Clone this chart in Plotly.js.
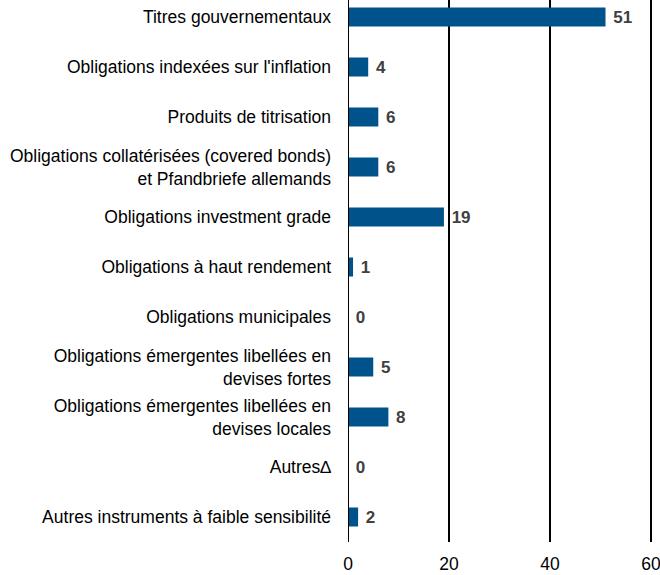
<!DOCTYPE html>
<html>
<head>
<meta charset="utf-8">
<script src="https://cdn.plot.ly/plotly-3.0.1.min.js"></script>
<style>html,body{margin:0;padding:0;background:#fff;}#chart{width:660px;height:575px;}</style>
</head>
<body>
<div id="chart"></div>
<script>
const categories = [
  "Titres gouvernementaux",
  "Obligations indexées sur l'inflation",
  "Produits de titrisation",
  "Obligations collatérisées (covered bonds)<br>et Pfandbriefe allemands",
  "Obligations investment grade",
  "Obligations à haut rendement",
  "Obligations municipales",
  "Obligations émergentes libellées en<br>devises fortes",
  "Obligations émergentes libellées en<br>devises locales",
  "Autres∆",
  "Autres instruments à faible sensibilité"
];
const values = [51, 4, 6, 6, 19, 1, 0, 5, 8, 0, 2];
const xTicks = [0, 20, 40, 60];

const idx = categories.map((c, i) => i);
const trace = {
  type: 'bar',
  orientation: 'h',
  y: idx,
  x: values,
  marker: {color: '#00538a'},
  text: values.map(v => '\u00a0' + v),
  textposition: 'outside',
  cliponaxis: false,
  textfont: {family: 'Liberation Sans, Arial, sans-serif', size: 17, color: '#404040', weight: 'bold'},
  hoverinfo: 'none'
};
const layout = {
  width: 660, height: 575,
  margin: {l: 348, r: 4, t: 0, b: 33},
  paper_bgcolor: '#ffffff', plot_bgcolor: '#ffffff',
  showlegend: false,
  bargap: 0.62,
  font: {family: 'Liberation Sans, Arial, sans-serif', size: 17.5, color: '#000000'},
  xaxis: {
    range: [0, 61],
    tickvals: xTicks,
    ticktext: xTicks.map(String),
    showgrid: true, gridcolor: '#000000', gridwidth: 2,
    zeroline: false, showline: false,
    ticks: '', ticklabelstandoff: 9,
    ticklabeloverflow: 'allow',
    fixedrange: true
  },
  yaxis: {
    range: [10.5, -0.34],
    tickvals: idx,
    ticktext: categories,
    showgrid: false, zeroline: false,
    showline: false,
    ticks: '', ticklabelstandoff: 16,
    fixedrange: true
  },
  shapes: [{type: 'line', xref: 'x', yref: 'paper', x0: 0, x1: 0, y0: 0, y1: 1, line: {color: '#000000', width: 2}}]
};
Plotly.newPlot('chart', [trace], layout, {displayModeBar: false, staticPlot: true});
</script>
</body>
</html>
